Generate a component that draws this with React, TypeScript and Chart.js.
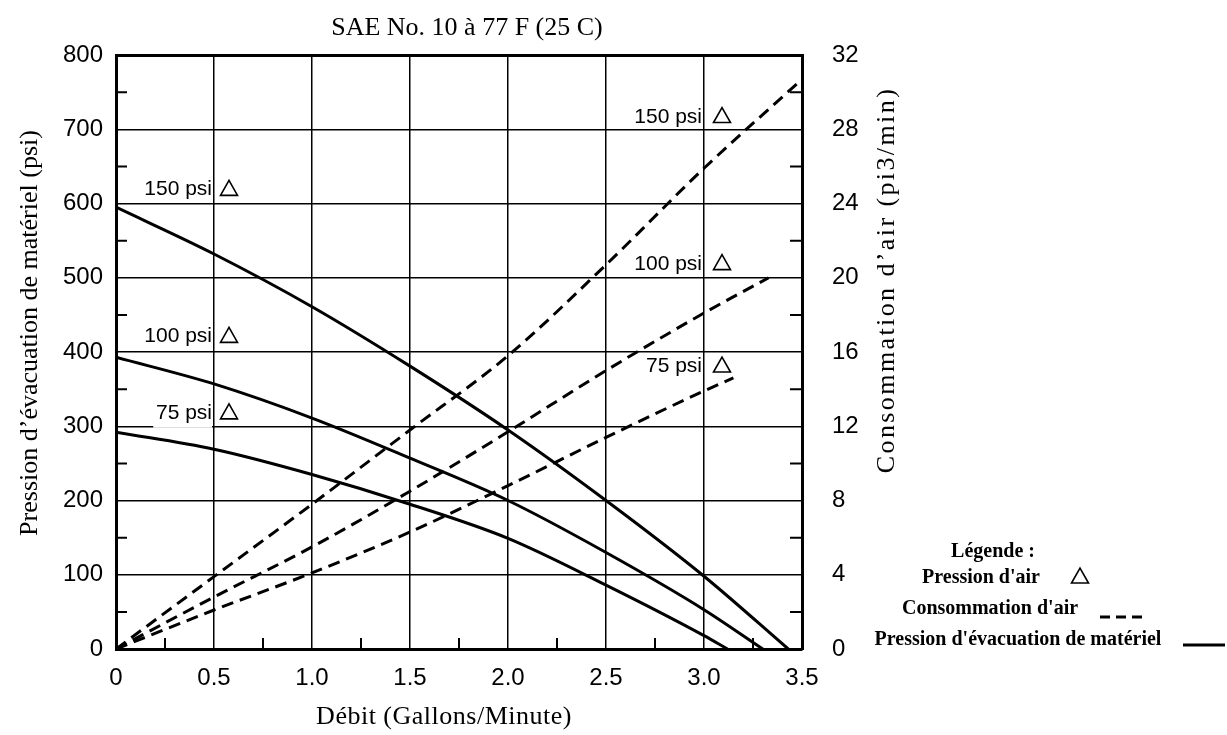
import React, { useEffect, useRef } from "react";
import { Chart, registerables } from "chart.js";

Chart.register(...registerables);

// ---- Data (flow in gallons/minute) ----
const flow150 = [0, 0.5, 1.0, 1.5, 2.0, 2.5, 3.0, 3.43];
const material150 = [595, 532, 461, 381, 295, 200, 98, 0];
const flow100 = [0, 0.5, 1.0, 1.5, 2.0, 2.5, 3.0, 3.3];
const material100 = [393, 357, 311, 257, 200, 130, 53, 0];
const flow75 = [0, 0.5, 1.0, 1.5, 2.0, 2.5, 3.0, 3.12];
const material75 = [292, 269, 235, 195, 149, 86, 18, 0];

const airFlow150 = [0, 0.5, 1.0, 1.5, 2.0, 2.5, 3.0, 3.48];
const air150 = [0, 3.9, 7.8, 11.8, 15.8, 20.7, 25.9, 30.5];
const airFlow100 = [0, 0.5, 1.0, 1.5, 2.0, 2.5, 3.0, 3.33];
const air100 = [0, 2.8, 5.5, 8.5, 11.7, 15.0, 18.1, 20.0];
const airFlow75 = [0, 0.5, 1.0, 1.5, 2.0, 2.5, 3.0, 3.15];
const air75 = [0, 2.1, 4.1, 6.3, 8.8, 11.4, 13.9, 14.6];

const xTickLabels = ["0", "0.5", "1.0", "1.5", "2.0", "2.5", "3.0", "3.5"];
const pressureLabels = ["150 psi", "100 psi", "75 psi"];

const titleText = "SAE No. 10 à 77 F (25 C)";
const xTitle = "Débit (Gallons/Minute)";
const yLeftTitle = "Pression d’évacuation de matériel (psi)";
const yRightTitle = "Consommation d’air (pi3/min)";
const legendTitle = "Légende :";
const legendItems = ["Pression d'air", "Consommation d'air", "Pression d'évacuation de matériel"];

// annotation anchors (gridline x, left-axis value for baseline)
const leftLabelAnchor = { x: 0.5, y: [611, 413, 310] };
const rightLabelAnchor = { x: 3.0, y: [709, 511, 373] };

const SANS = "'Liberation Sans', Arial, Helvetica, sans-serif";
const SERIF = "'Liberation Serif', 'Times New Roman', serif";

function pts(xs: number[], ys: number[]) {
  return xs.map((x, i) => ({ x, y: ys[i] }));
}

function drawTriangle(ctx: CanvasRenderingContext2D, cx: number, base: number) {
  const w = 17;
  const h = 15;
  ctx.save();
  ctx.beginPath();
  ctx.moveTo(cx - w / 2, base);
  ctx.lineTo(cx + w / 2, base);
  ctx.lineTo(cx, base - h);
  ctx.closePath();
  ctx.lineWidth = 1.6;
  ctx.strokeStyle = "#000";
  ctx.stroke();
  ctx.restore();
}

const gapPlugin = {
  id: "gridGap",
  beforeDatasetsDraw(chart: any) {
    // break in the 300 gridline under the "75 psi" label, as in the original
    const ctx: CanvasRenderingContext2D = chart.ctx;
    const xs = chart.scales.x;
    const ys = chart.scales.y;
    const py = ys.getPixelForValue(300);
    ctx.save();
    ctx.strokeStyle = "#fff";
    ctx.lineWidth = 3;
    ctx.beginPath();
    ctx.moveTo(xs.getPixelForValue(0.19), py);
    ctx.lineTo(xs.getPixelForValue(0.49), py);
    ctx.stroke();
    ctx.restore();
  },
};

const decorPlugin = {
  id: "decor",
  afterDraw(chart: any) {
    const ctx: CanvasRenderingContext2D = chart.ctx;
    const { chartArea } = chart;
    const xs = chart.scales.x;
    const ys = chart.scales.y;
    const ys2 = chart.scales.y2;
    ctx.save();
    ctx.fillStyle = "#000";
    ctx.strokeStyle = "#000";

    // minor ticks
    ctx.lineWidth = 2;
    ctx.beginPath();
    for (let v = 50; v < 800; v += 100) {
      const py = ys.getPixelForValue(v);
      ctx.moveTo(chartArea.left, py);
      ctx.lineTo(chartArea.left + 11, py);
    }
    for (let v = 2; v < 32; v += 4) {
      const py = ys2.getPixelForValue(v);
      ctx.moveTo(chartArea.right - 12, py);
      ctx.lineTo(chartArea.right, py);
    }
    for (let v = 0.25; v < 3.5; v += 0.5) {
      const px = xs.getPixelForValue(v);
      ctx.moveTo(px, chartArea.bottom);
      ctx.lineTo(px, chartArea.bottom - 11);
    }
    ctx.stroke();

    // psi annotations
    ctx.font = `21px ${SANS}`;
    ctx.textAlign = "right";
    ctx.textBaseline = "alphabetic";
    pressureLabels.forEach((t, i) => {
      const gx = xs.getPixelForValue(leftLabelAnchor.x);
      const by = ys.getPixelForValue(leftLabelAnchor.y[i]);
      ctx.fillText(t, gx - 2, by);
      drawTriangle(ctx, gx + 15, by);
    });
    pressureLabels.forEach((t, i) => {
      const gx = xs.getPixelForValue(rightLabelAnchor.x);
      const by = ys.getPixelForValue(rightLabelAnchor.y[i]);
      ctx.fillText(t, gx - 2, by);
      drawTriangle(ctx, gx + 18, by);
    });

    // title
    ctx.textAlign = "center";
    ctx.font = `26px ${SERIF}`;
    ctx.fillText(titleText, (chartArea.left + chartArea.right) / 2 + 8, 35);

    // x title
    (ctx as any).letterSpacing = "0.5px";
    ctx.fillText(xTitle, 444, 724);
    (ctx as any).letterSpacing = "0px";

    // left y title
    ctx.save();
    ctx.translate(30, 333);
    ctx.rotate(-Math.PI / 2);
    ctx.textBaseline = "middle";
    ctx.fillText(yLeftTitle, 0, 0);
    ctx.restore();

    // right y title
    ctx.save();
    ctx.translate(887, 280);
    ctx.rotate(-Math.PI / 2);
    ctx.textBaseline = "middle";
    (ctx as any).letterSpacing = "2.4px";
    ctx.fillText(yRightTitle, 0, 0);
    (ctx as any).letterSpacing = "0px";
    ctx.restore();

    // legend
    ctx.font = `bold 20px ${SERIF}`;
    ctx.textAlign = "center";
    ctx.fillText(legendTitle, 993, 557);
    ctx.fillText(legendItems[0], 981, 583);
    drawTriangle(ctx, 1080, 583);
    ctx.fillText(legendItems[1], 990, 614);
    ctx.lineWidth = 3;
    ctx.setLineDash([10, 6]);
    ctx.beginPath();
    ctx.moveTo(1100, 617);
    ctx.lineTo(1144, 617);
    ctx.stroke();
    ctx.setLineDash([]);
    ctx.fillText(legendItems[2], 1018, 645);
    ctx.beginPath();
    ctx.moveTo(1183, 645);
    ctx.lineTo(1225, 645);
    ctx.stroke();

    ctx.restore();
  },
};

export default function App() {
  const ref = useRef<HTMLCanvasElement | null>(null);

  useEffect(() => {
    if (!ref.current) return;
    const solid = (xs: number[], ys: number[]) => ({
      data: pts(xs, ys),
      borderColor: "#000",
      borderWidth: 3,
      pointRadius: 0,
      fill: false,
      tension: 0.4,
      cubicInterpolationMode: "monotone" as const,
      yAxisID: "y",
    });
    const dashed = (xs: number[], ys: number[]) => ({
      data: pts(xs, ys),
      borderColor: "#000",
      borderWidth: 3,
      borderDash: [12, 7],
      pointRadius: 0,
      fill: false,
      tension: 0.4,
      cubicInterpolationMode: "monotone" as const,
      yAxisID: "y2",
    });
    const tickFont = { family: SANS, size: 24 };
    const chart = new Chart(ref.current, {
      type: "line",
      data: {
        datasets: [
          { label: "Pression 150 psi", ...solid(flow150, material150) },
          { label: "Pression 100 psi", ...solid(flow100, material100) },
          { label: "Pression 75 psi", ...solid(flow75, material75) },
          { label: "Air 150 psi", ...dashed(airFlow150, air150) },
          { label: "Air 100 psi", ...dashed(airFlow100, air100) },
          { label: "Air 75 psi", ...dashed(airFlow75, air75) },
        ] as any,
      },
      options: {
        responsive: false,
        animation: false,
        events: [],
        layout: { padding: { top: 55, left: 0, right: 0, bottom: 0 } },
        plugins: {
          legend: { display: false },
          tooltip: { enabled: false },
          title: { display: false },
        },
        scales: {
          x: {
            type: "linear",
            min: 0,
            max: 3.5,
            ticks: {
              stepSize: 0.5,
              autoSkip: false,
              maxRotation: 0,
              padding: 15,
              color: "#000",
              font: tickFont,
              callback: (_v: any, i: number) => xTickLabels[i],
            },
            grid: { color: "#000", lineWidth: 1.5, drawTicks: false },
            border: { color: "#000", width: 3 },
            afterFit: (s: any) => {
              s.height = 86;
            },
          },
          y: {
            position: "left",
            min: 0,
            max: 800,
            ticks: { stepSize: 100, padding: 13, color: "#000", font: tickFont },
            grid: {
              color: "#000",
              drawTicks: false,
              lineWidth: (c: any) => (c.tick && c.tick.value === 800 ? 3 : 1.5),
            },
            border: { color: "#000", width: 3 },
            afterFit: (s: any) => {
              s.width = 116;
            },
          },
          y2: {
            position: "right",
            min: 0,
            max: 32,
            ticks: { stepSize: 4, padding: 30, color: "#000", font: tickFont },
            grid: { display: false, drawTicks: false },
            border: { display: true, color: "#000", width: 3 },
            afterFit: (s: any) => {
              s.width = 425;
            },
          },
        } as any,
      },
      plugins: [gapPlugin, decorPlugin],
    });
    return () => chart.destroy();
  }, []);

  return (
    <div style={{ position: "absolute", left: 0, top: 0, width: 1227, height: 735, background: "#fff" }}>
      <canvas ref={ref} width={1227} height={735} style={{ display: "block" }} />
    </div>
  );
}
